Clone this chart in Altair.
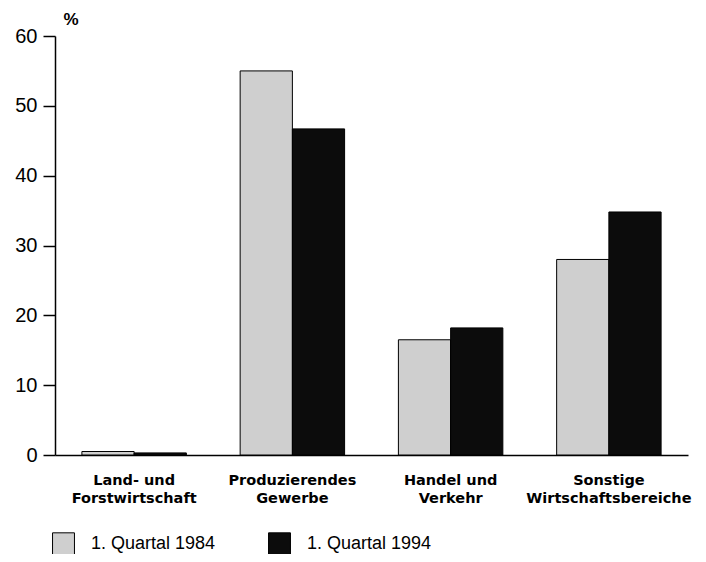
import altair as alt
import pandas as pd

categories = ["Land- und\nForstwirtschaft", "Produzierendes\nGewerbe", "Handel und\nVerkehr", "Sonstige\nWirtschaftsbereiche"]
series = ["1. Quartal 1984", "1. Quartal 1994"]
values_1984 = [0.5, 55.0, 16.5, 28.0]
values_1994 = [0.3, 46.7, 18.2, 34.8]
y_ticks = [0, 10, 20, 30, 40, 50, 60]

rows = []
for c, a, b in zip(categories, values_1984, values_1994):
    rows.append({"cat": c, "series": series[0], "value": a})
    rows.append({"cat": c, "series": series[1], "value": b})
df = pd.DataFrame(rows)

font = "Liberation Sans"

chart = alt.Chart(df).mark_bar(stroke="black", strokeWidth=1).encode(
    x=alt.X("cat:N", sort=categories, title=None,
            scale=alt.Scale(paddingInner=0.34, paddingOuter=0.17),
            axis=alt.Axis(labelAngle=0, ticks=False, labelPadding=18,
                          labelExpr="split(datum.label, '\\n')",
                          labelFont="DejaVu Sans", labelFontWeight="bold", labelFontSize=14.5,
                          labelColor="black", domainColor="black", domainWidth=1.5,
                          labelLineHeight=18)),
    xOffset=alt.XOffset("series:N", sort=series, scale=alt.Scale(paddingInner=0, paddingOuter=0)),
    y=alt.Y("value:Q", scale=alt.Scale(domain=[0, 60], nice=False),
            axis=alt.Axis(values=y_ticks, grid=False, tickSize=12, tickColor="black",
                          tickWidth=1.5, domainColor="black", domainWidth=1.5,
                          labelFont=font, labelFontSize=20, labelColor="black", labelPadding=6,
                          title="%", titleAngle=0, titleX=8, titleY=-8, titleAlign="left",
                          titleFont=font, titleFontSize=17, titleFontWeight="bold",
                          titleColor="black")),
    color=alt.Color("series:N", sort=series,
                    scale=alt.Scale(domain=series, range=["#cfcfcf", "#0c0c0c"]),
                    legend=alt.Legend(title=None, orient="none", direction="horizontal",
                                      legendX=-3, legendY=496, symbolType="square",
                                      symbolSize=480, symbolStrokeColor="black",
                                      symbolStrokeWidth=1, labelFont=font, labelFontSize=18,
                                      labelColor="black", labelOffset=16, columnPadding=50,
                                      symbolOpacity=1)),
).properties(
    width=633, height=419,
    autosize=alt.AutoSizeParams(type="none"),
    padding={"left": 47, "top": 28, "right": 10, "bottom": 99},
).configure(background="white").configure_view(stroke=None, strokeWidth=0)

chart.save("out.html", embed_options={"renderer": "svg", "actions": False})
